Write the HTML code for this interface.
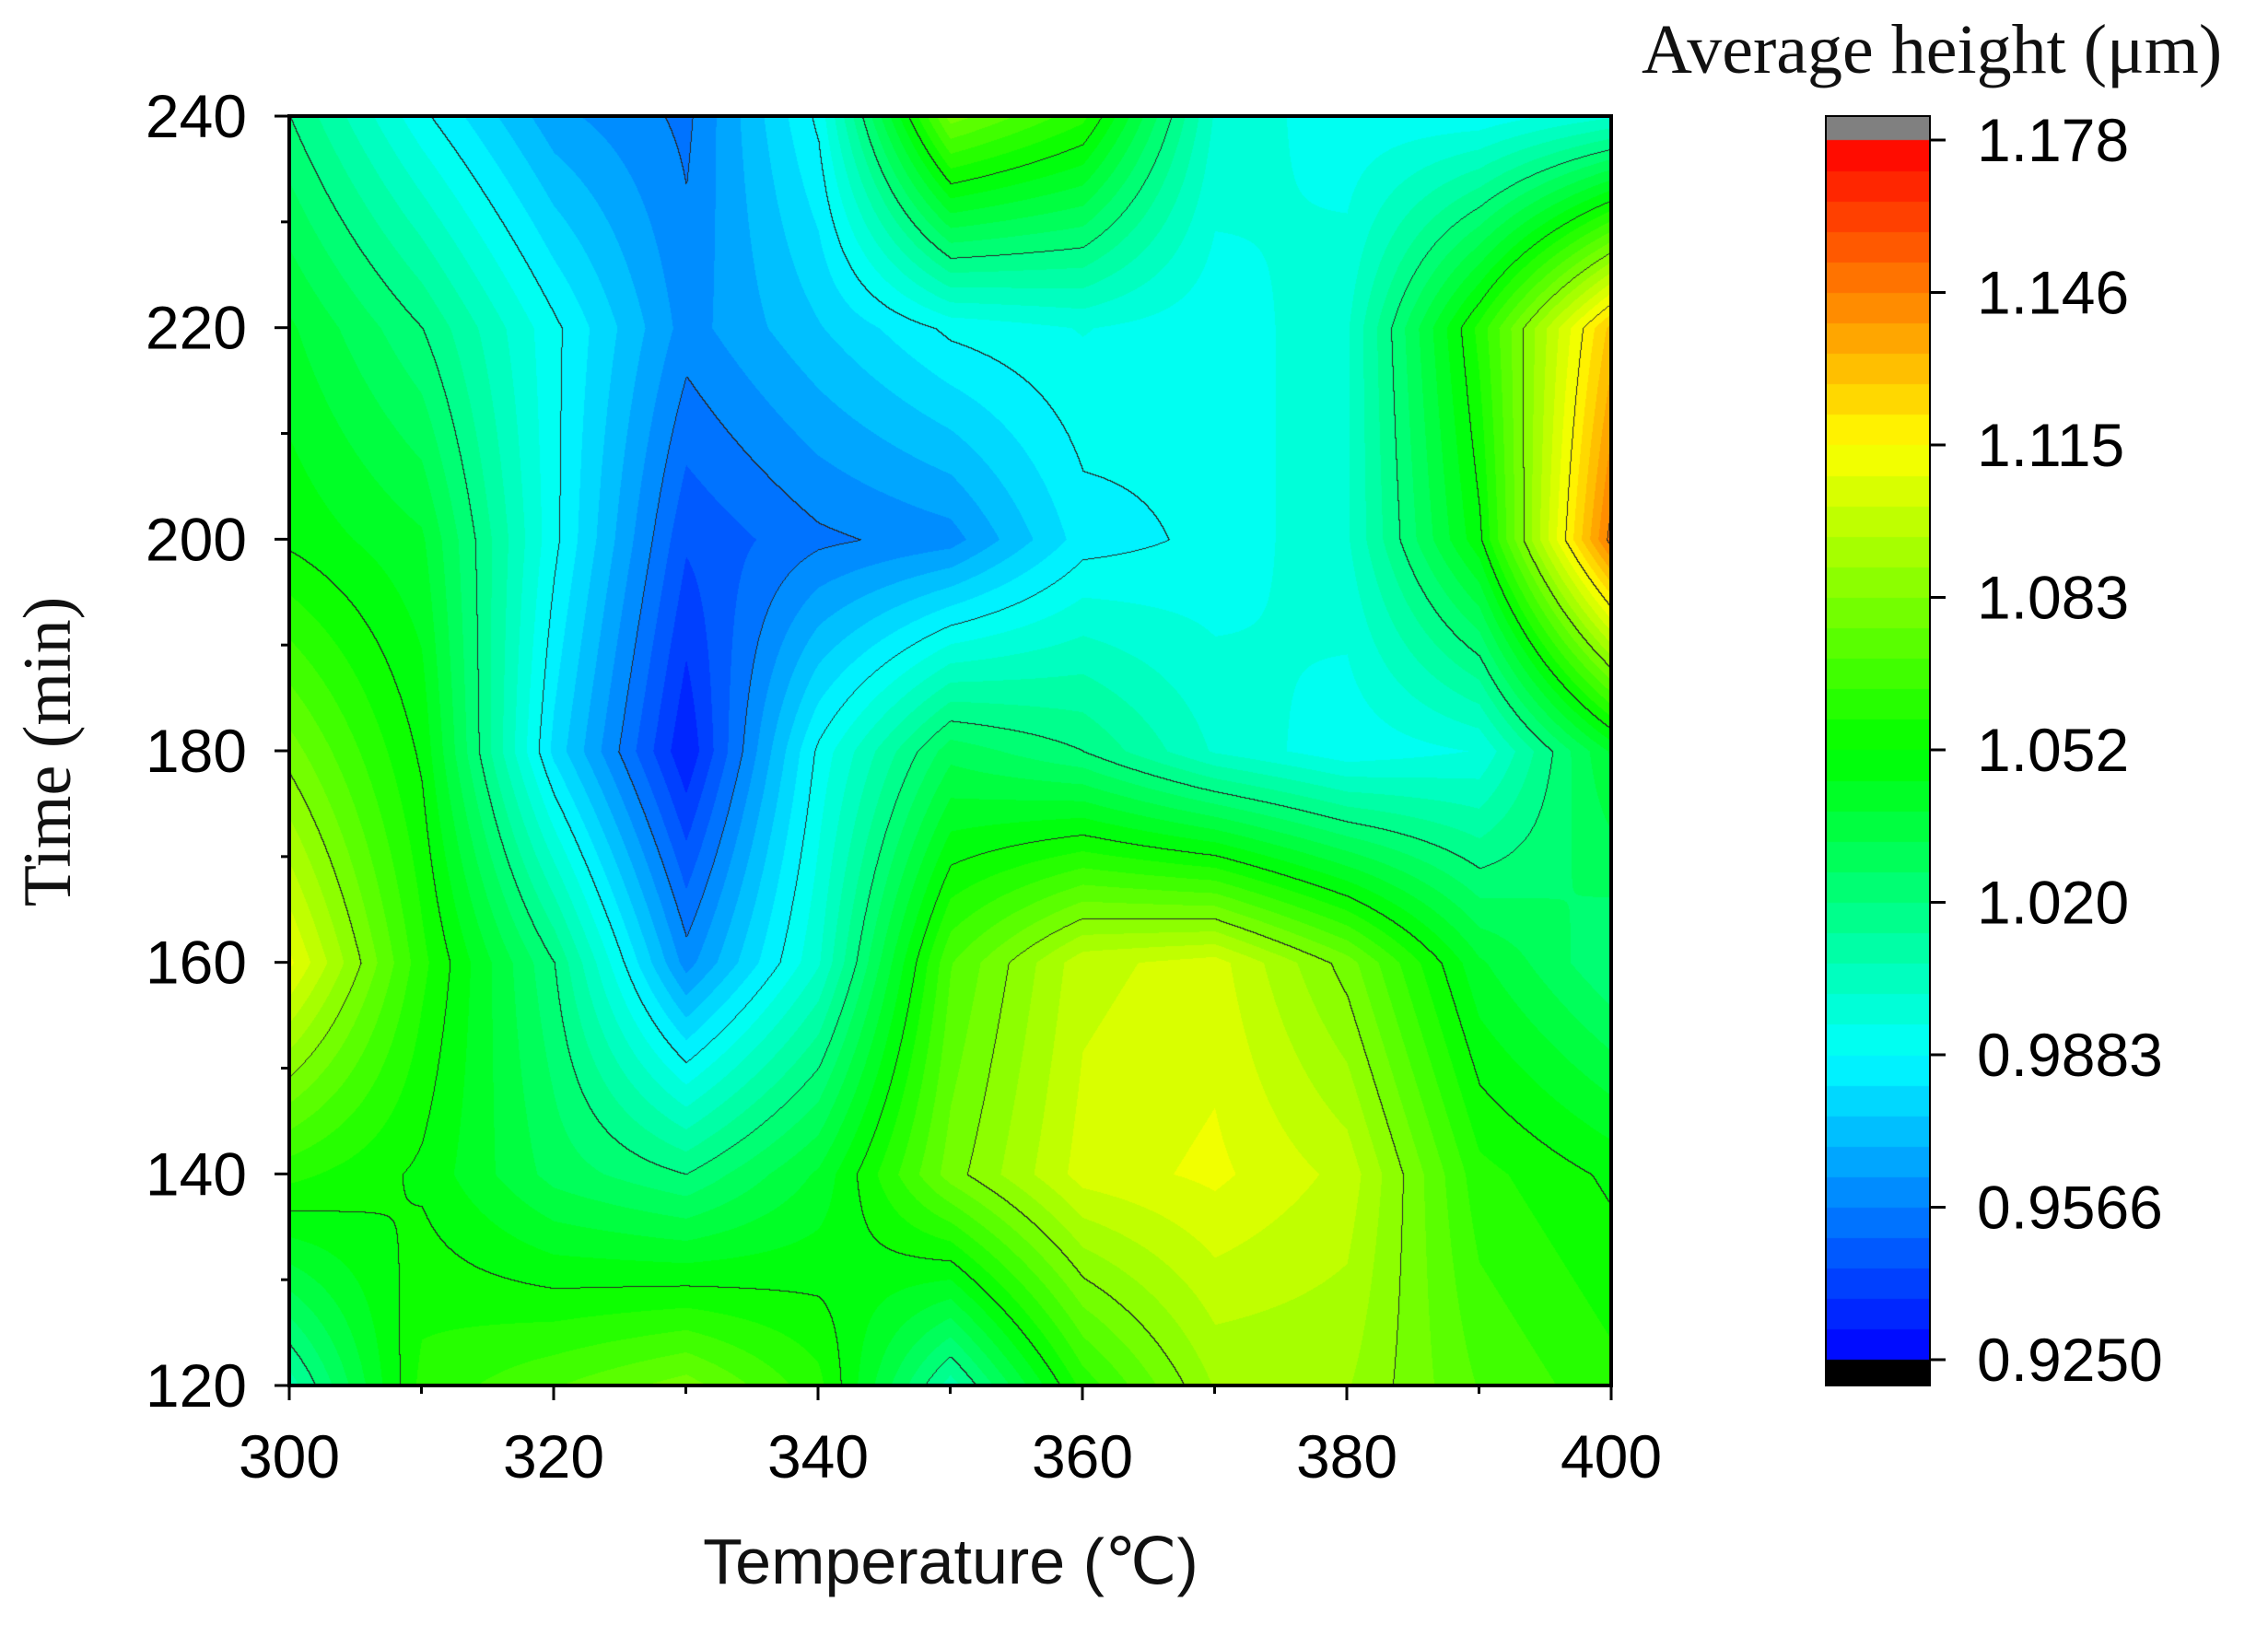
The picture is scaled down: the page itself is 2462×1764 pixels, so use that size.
<!DOCTYPE html>
<html><head><meta charset="utf-8"><style>
body{margin:0;background:#fff;width:2462px;height:1764px;overflow:hidden;position:relative;font-family:"Liberation Sans",sans-serif}
.t{position:absolute;font-size:60px;color:#111;line-height:1}
</style></head><body>
<canvas id="c" width="1435" height="1378" style="position:absolute;left:314px;top:126px"></canvas>
<canvas id="cb" width="113" height="1378" style="position:absolute;left:1982px;top:126px"></canvas>
<svg width="2462" height="1764" style="position:absolute;left:0;top:0" id="s"></svg>
<div class="t" style="left:1032px;top:1660px;font-size:70px;transform:translateX(-50%);white-space:nowrap">Temperature (℃)</div>
<div class="t" style="left:52px;top:816px;font-size:74px;font-family:'Liberation Serif',serif;transform:translate(-50%,-50%) rotate(-90deg);white-space:nowrap">Time (min)</div>
<div class="t" style="left:1782px;top:16px;font-size:76px;font-family:'Liberation Serif',serif;white-space:nowrap">Average height (μm)</div>
<script>
const V=[
[1.01,1.06,1.07,1.08,1.06,1.01,1.06,1.09,1.09,1.07,1.06],
[1.06,1.05,1.03,1.02,1.04,1.08,1.105,1.11,1.10,1.06,1.05],
[1.11,1.06,1.02,0.96,1.00,1.07,1.10,1.105,1.08,1.04,1.02],
[1.08,1.05,0.98,0.932,0.99,1.03,1.02,1.00,0.99,0.995,1.04],
[1.05,1.04,0.99,0.945,0.955,0.96,0.985,0.99,1.00,1.05,1.15],
[1.04,1.02,0.99,0.96,0.975,0.99,0.995,0.99,1.00,1.06,1.13],
[1.02,0.99,0.965,0.955,0.99,1.08,1.06,1.00,0.99,0.99,1.00]];
const stops=[[0,0,255],[0,128,255],[0,255,255],[0,255,128],[0,255,0],[128,255,0],[255,255,0],[255,128,0],[255,0,0]];
const vmin=0.925,vmax=1.178;
function col(v){let f=(v-vmin)/(vmax-vmin);f=Math.max(0,Math.min(0.9999,f));f=(Math.floor(f*40)+0.5)/40;let p=f*8,i=Math.floor(p),r=p-i;let a=stops[i],b=stops[Math.min(8,i+1)];return[a[0]+(b[0]-a[0])*r,a[1]+(b[1]-a[1])*r,a[2]+(b[2]-a[2])*r];}
function val(x,y){let gx=x/1435*10,gy=(1-y/1378)*6;let i=Math.min(9,Math.floor(gx)),j=Math.min(5,Math.floor(gy));let fx=gx-i,fy=gy-j;
return V[j][i]*(1-fx)*(1-fy)+V[j][i+1]*fx*(1-fy)+V[j+1][i]*(1-fx)*fy+V[j+1][i+1]*fx*fy;}
const W=1435,H=1378,c=document.getElementById('c').getContext('2d'),im=c.createImageData(W,H);
const L=new Int16Array(W*H),vals=new Float32Array(W*H);
for(let y=0;y<H;y++)for(let x=0;x<W;x++){let v=val(x,y);vals[y*W+x]=v;L[y*W+x]=Math.floor((v-vmin)/(vmax-vmin)*8);}
for(let y=0;y<H;y++)for(let x=0;x<W;x++){let k=y*W+x,cc=col(vals[k]);
let e=(x>0&&L[k]!=L[k-1])||(y>0&&L[k]!=L[k-W]);if(e)cc=[40,40,40];
im.data[k*4]=cc[0];im.data[k*4+1]=cc[1];im.data[k*4+2]=cc[2];im.data[k*4+3]=255;}
c.putImageData(im,0,0);
const b=document.getElementById('cb').getContext('2d');
b.fillStyle='#808080';b.fillRect(0,0,113,26);b.fillStyle='#000';b.fillRect(0,1350,113,28);
for(let y=26;y<1350;y++){let v=vmax-(y-26)/1324*(vmax-vmin);let cc=col(v);b.fillStyle=`rgb(${cc[0]|0},${cc[1]|0},${cc[2]|0})`;b.fillRect(0,y,113,1);}
let s='<rect x="314" y="126" width="1435" height="1378" fill="none" stroke="#000" stroke-width="4"/><rect x="1982" y="126" width="113" height="1378" fill="none" stroke="#000" stroke-width="2"/>';
let txt='';
for(let i=0;i<=10;i++){let x=314+i*143.5;let maj=i%2==0;s+=`<line x1="${x}" y1="1504" x2="${x}" y2="${1504+(maj?16:9)}" stroke="#000" stroke-width="3"/>`;
if(maj)txt+=`<text x="${x}" y="1604" font-size="66" text-anchor="middle" font-family="Liberation Sans">${300+i*10}</text>`;}
for(let i=0;i<=12;i++){let y=1504-i*114.83;let maj=i%2==0;s+=`<line x1="314" y1="${y}" x2="${314-(maj?16:9)}" y2="${y}" stroke="#000" stroke-width="3"/>`;
if(maj)txt+=`<text x="268" y="${y+23}" font-size="66" text-anchor="end" font-family="Liberation Sans">${120+i*10}</text>`;}
const lab=['1.178','1.146','1.115','1.083','1.052','1.020','0.9883','0.9566','0.9250'];
for(let i=0;i<9;i++){let y=152+i*165.5;s+=`<line x1="2095" y1="${y}" x2="2112" y2="${y}" stroke="#000" stroke-width="3"/>`;
txt+=`<text x="2146" y="${y+23}" font-size="66" font-family="Liberation Sans">${lab[i]}</text>`;}
document.getElementById('s').innerHTML=s+txt;
</script>
</body></html>
